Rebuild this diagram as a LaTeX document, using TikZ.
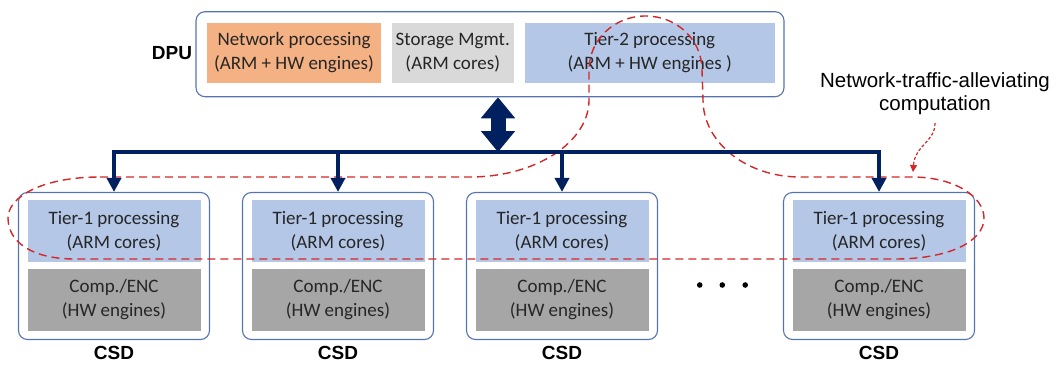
\documentclass[tikz,border=0pt]{standalone}
\usepackage{fontspec}
\setmainfont{Carlito}
\newfontfamily\labelfont{Liberation Sans}
\usetikzlibrary{arrows.meta}
\definecolor{navy}{RGB}{0,32,96}
\definecolor{edgeblue}{RGB}{84,116,176}
\definecolor{tierblue}{RGB}{180,199,231}
\definecolor{netorange}{RGB}{244,177,131}
\definecolor{mgmtgray}{RGB}{217,217,217}
\definecolor{hwgray}{RGB}{166,166,166}
\definecolor{loopred}{RGB}{212,40,40}
\definecolor{inkgray}{RGB}{38,38,38}
\begin{document}
\begin{tikzpicture}[x=1pt,y=-1pt,
        box/.style={draw=edgeblue,line width=1.1pt,rounded corners=9pt,inner sep=0pt},
        part/.style={inner sep=0pt,align=center,text=inkgray,font=\fontsize{19}{24}\selectfont},
        tag/.style={text=black,inner sep=1pt,font=\labelfont\bfseries\fontsize{19}{23}\selectfont},
        bus/.style={navy,line width=4.6pt},
        loop/.style={loopred,line width=1.4pt,dash pattern=on 8pt off 5pt}]
        \useasboundingbox (0,0) rectangle (1056,364);
        %% DPU
        \node[box,minimum width=588pt,minimum height=85pt] (dpu) at (490,54.2) {};
        \node[tag] (dpuname) at (172,53.5) {DPU};
        \node[part,fill=netorange,minimum width=174pt,minimum height=60.6pt] (net) at (294,53) {Network processing\\(ARM + HW engines)};
        \node[part,fill=mgmtgray,minimum width=122.5pt,minimum height=60.6pt] (mgmt) at (452.75,53) {Storage Mgmt.\\(ARM cores)};
        \node[part,fill=tierblue,minimum width=250.5pt,minimum height=60.6pt] (tier2) at (649.75,53) {Tier-2 processing\\(ARM + HW engines )};
        %% CSDs
        \foreach \i/\x in {1/114,2/338,3/562,4/879} {
            \node[box,minimum width=191pt,minimum height=147pt] (csd\i) at (\x,266) {};
            \node[part,fill=tierblue,minimum width=173pt,minimum height=62pt] (tier\i) at (\x,231) {Tier-1 processing\\(ARM cores)};
            \node[part,fill=hwgray,minimum width=173pt,minimum height=62pt] (hw\i) at (\x,299.5) {Comp./ENC\\(HW engines)};
            \node[tag] (name\i) at (\x,353) {CSD};
        }
        \foreach \x in {699.7,722.3,745.2}
            \fill (\x,285) circle (2.8pt);
        %% dashed region
        \draw[loop] (100,177) -- (470,177)
            .. controls (536,177) and (589,142) .. (589,100) -- (589,70)
            .. controls (589,40) and (614,16) .. (645.5,16)
            .. controls (677,16) and (702,40) .. (702,70) -- (703,100)
            .. controls (703,142) and (746,177) .. (800,177) -- (912,177)
            .. controls (955,177) and (984,197) .. (984,218)
            .. controls (984,242) and (948,259) .. (895,259) -- (75,259)
            .. controls (32,259) and (8,242) .. (8,218)
            .. controls (8,197) and (42,177) .. (100,177) -- cycle;
        %% links
        \coordinate (hub) at (498,152);
        \draw[navy,line width=15pt,{Triangle[length=21pt,width=33pt]}-{Triangle[length=21pt,width=33pt]}] (dpu.south -| hub) -- (hub);
        \draw[bus,{Triangle[length=14pt,width=14pt]}-{Triangle[length=14pt,width=14pt]}] (csd1.north) |- (hub) -| (csd4.north);
        \foreach \i in {2,3}
            \draw[bus,-{Triangle[length=14pt,width=14pt]}] (csd\i.north |- hub) -- (csd\i.north);
        %% note
        \node[align=center,text=black,font=\labelfont\fontsize{20.5}{23}\selectfont] (note) at (935,93.5) {Network-traffic-alleviating\\computation};
        \coordinate (tip) at (913,172);
        \draw[loopred,line width=1.2pt,dash pattern=on 3pt off 2pt,-{Triangle[length=7pt,width=7pt]}] ([yshift=-5pt]note.south) .. controls (935,142) and (915,145) .. (tip);
    \end{tikzpicture}
\end{document}
